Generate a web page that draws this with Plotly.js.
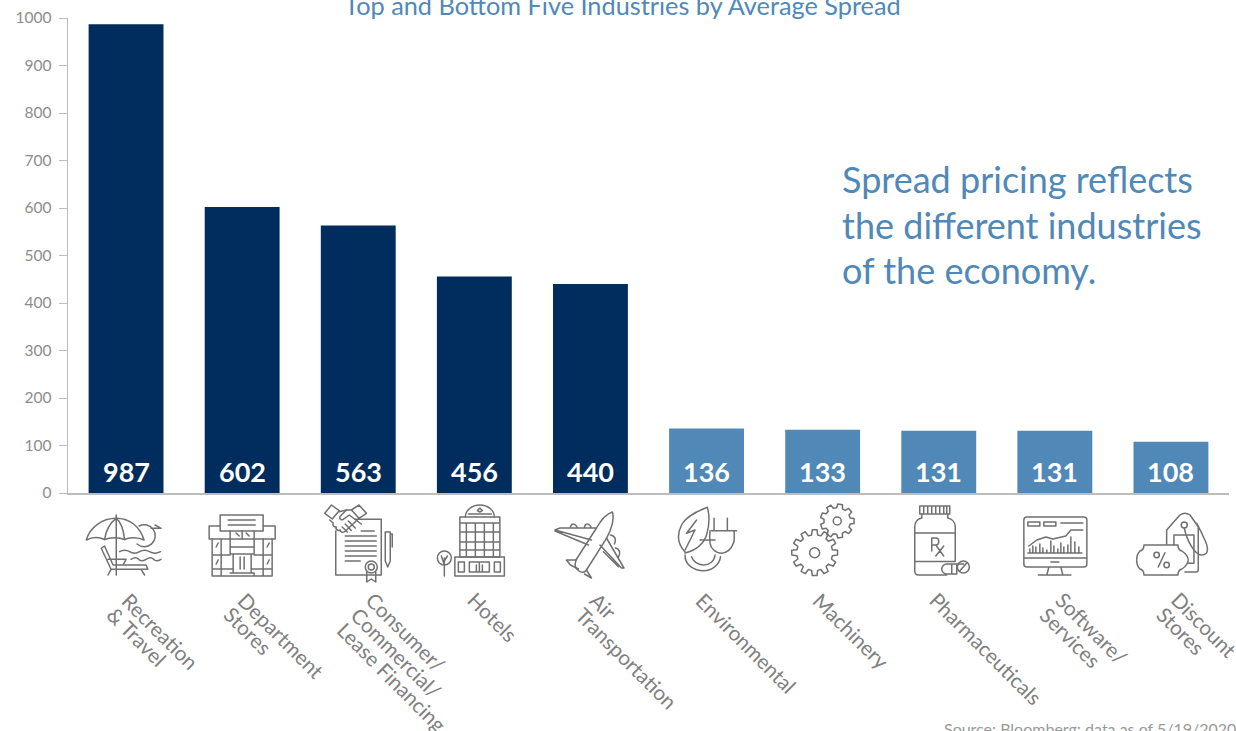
<!DOCTYPE html>
<html>
<head>
<meta charset="utf-8">
<script src="https://cdn.plot.ly/plotly-3.0.1.min.js"></script>
<style>html,body{margin:0;padding:0;background:#fff;overflow:hidden}#c{width:1236px;height:731px}</style>
</head>
<body>
<div id="c"></div>
<script>
var categories = ["Recreation<br>& Travel","Department<br>Stores","Consumer/<br>Commercial/<br>Lease Financing","Hotels","Air<br>Transportation","Environmental","Machinery","Pharmaceuticals","Software/<br>Services","Discount<br>Stores"];
var values = [987,602,563,456,440,136,133,131,131,108];
var groups = ["top","top","top","top","top","bottom","bottom","bottom","bottom","bottom"];
var yTicks = [0,100,200,300,400,500,600,700,800,900,1000];
var titleText = "Top and Bottom Five Industries by Average Spread";
var calloutLines = ["Spread pricing reflects","the different industries","of the economy."];
var sourceText = "Source: Bloomberg; data as of 5/19/2020";

var DARK="#002d5d", LIGHT="#5088b8", FONT="Lato, 'Noto Sans', sans-serif";
var groupColor={top:DARK,bottom:LIGHT};
var labelStart=[-4.5,-4,7.5,-7,-1,-11,-10,-9,0,0];

function gear(cx,cy,r,teeth,hole){
  var d="",n=teeth,inner=r*0.78,step=Math.PI*2/n;
  for(var i=0;i<n;i++){
    var a=i*step,pts=[[inner,a-step*.32],[r,a-step*.2],[r,a+step*.2],[inner,a+step*.32]];
    pts.forEach(function(p,j){
      var x=(cx+p[0]*Math.cos(p[1])).toFixed(1),y=(cy+p[0]*Math.sin(p[1])).toFixed(1);
      d+=((i===0&&j===0)?"M":"L")+x+","+y;
    });
  }
  return '<path d="'+d+'Z"/><circle cx="'+cx+'" cy="'+cy+'" r="'+hole+'"/>';
}

var icons=[
 // umbrella & beach
 '<path d="M-39.8,-5C-36,-18 -24,-26.7 -9.8,-26.7C4,-26.7 14,-18 18,-5C12,-8 3,-8 -1.5,-5.5C-7,-8 -16,-8 -21.5,-5.5C-27,-8 -34,-8 -39.8,-5Z"/><path d="M-9.8,-30V30M-21.5,-5.5C-20,-15 -15,-23 -9.8,-26.7C-5,-23 -2.5,-15 -1.5,-5.5"/><path d="M13,-19A11,11 0 1 1 11,-1M25,-16.7H35M29,-20L35,-16.7"/><path d="M-6.5,6.7q5,-3 10,0t10,0t10,0t11,0M5,14.3q5,-3 7.5,0t7.5,0t7.5,0t7.5,0"/><path d="M-24.8,3.3L-21.5,1L-13,20H20L21.8,24.3H-15ZM-18,14.3H0L-3,20M-15,24.3L-18,30M15,24.3L18.5,30"/>',
 // department store
 '<path d="M-22,-30H21V-14H-22ZM-14,-25H13M-14,-20H13"/><path d="M-22,-19H-33V-6H33V-19H21"/><path d="M-30,-6V31H30V-6M-12,2V9H12V2ZM-9,9V28H9V9M-2,12V24M2,12V24M-12,28H12V31H-12M-12,-14V2M12,-14V2M-30,10H-12M12,10H30M-30,24H-10M10,24H30M-21,-6V31M21,-6V31M0,-14V-6"/><path d="M-6,-12L-3,-9M4,-12L7,-9M-26,2L-24,-2M25,2L27,-2M-26,19L-24,15M25,19L27,15"/>',
 // contract & handshake
 '<path d="M-3,-25.7H23V30H-22.5V-14"/><path d="M-13,-9H18M-13,-4H18M-13,1H18M-13,6H18M-13,11H18M-13,16H2M3,-14H16"/><circle cx="13" cy="22" r="6"/><circle cx="13" cy="22" r="3"/><path d="M8.5,27V37L13,34L17.5,37V27"/><path d="M27,-13H32V16L29.5,22L27,16ZM32,-11H34V2"/><path d="M-33.5,-31.7L-26.8,-40L-19,-34.3L-26,-26ZM8.2,-31.7L0.8,-40L-6.8,-35L0.8,-26.7Z"/><path d="M-19,-33.3L-11.8,-35H-6.8M0.8,-26.7L-13.5,-13.3C-16,-12 -18,-13 -18,-15C-20,-14 -23,-15 -22,-18C-25,-18 -26,-20 -25,-22L-28.5,-25"/><path d="M-11.8,-35L-18.5,-28.3C-19,-25 -16,-25 -15,-25.7L-9,-30L3,-21M-10,-24L-3,-17M-13,-21L-7,-14.5M-16,-18L-11,-13"/>',
 // hotel
 '<path d="M-14.5,-28H25.5V12H-14.5ZM-14.5,-22H25.5M-14.5,-13H25.5M-14.5,-3H25.5M-14.5,5H25.5M-8,-22V12M1,-22V12M10,-22V12M19,-22V12"/><path d="M-9,-28A14.5,12 0 0 1 20,-28"/><path d="M-6,-31H17"/><path d="M3,-34.5L5.5,-33L8,-34.5L5.5,-37Z"/><path d="M-19.5,12H30V31H-19.5ZM-16,17H-10V27H-16ZM-5,17H15V27H-5ZM20,17H26V27H20ZM5,17V27M2,20V26M8,20V26"/><circle cx="-30" cy="13" r="7"/><path d="M-30,13V31M-30,20L-33,11M-30,16L-27,11"/>',
 // plane
 '<path d="M22,-33C15,-31 10,-24 6,-17L-14.5,15C-16,20 -15,24 -12,25.5C-9,28 -6,28 -4,25L16,-6.7C21,-15 24,-26 22,-33Z"/><path d="M1,-5L-35.5,-15L-30.5,-17H6M-35.5,-14L-2,0M-20,-18C-19,-22 -15,-22 -13,-17M-6,-18C-5,-22 -1,-22 1,-17"/><path d="M9.5,0L31,23L33.5,23L16,-7M13,6.7L28,21.7M20,-10C25,-9 26,-5 24,-1M25,3C30,4 30,9 28,12"/><path d="M-14,15H-24L-20,20L-12,24M-4,25L1,33L-6,29"/>',
 // environmental
 '<path d="M0.8,-37.7C-12,-33 -22,-26 -25,-20C-29,-12 -30,-2 -21.5,7M0.8,-37.7C3,-30 3,-20 0,-10C-3,-1 -10,5 -21.5,8"/><path d="M-10,-25L-20,-11.7L-11.5,-15L-21.5,5"/><path d="M7.5,-26.7V-15M20.8,-26.7V-15M5,-14.3H30M27.5,-14.3C28,-8 28,-4 26.8,-1.7C25,4 20,8.3 15,8.3C9,8.3 4,3 3.5,-1.7C3,-5 3,-10 3.5,-14.3M-6.5,-5H8.5"/><path d="M-21.5,10C-22,20 -12,25.7 -3,25.7C5,25.7 13,20 14,11.7M-15,11.7C-14,16 -9,20 -3,20C3,20 8,16 8.5,10"/>',
 // machinery
 gear(-8,7.7,23,12,5)+gear(14.6,-24,17,9,4),
 // pharmaceuticals
 '<path d="M-19,-39H11V-31H-19ZM-15,-39V-31M-11,-39V-31M-7,-39V-31M-3,-39V-31M1,-39V-31M5,-39V-31M8,-39V-31"/><path d="M-17,-31V-27C-22,-26 -24,-22 -24,-18V26C-24,29 -22,30 -20,30H8M9,-31V-27C14,-26 16.5,-22 16.5,-18V16M-24,-12H16.5M-24,16.5H16.5"/><path d="M-7,6V-7H-3C1,-7 1,0 -3,0H-7M-3,0L5,11M5,1L-3,11"/><path d="M8,19H18V29H8A5,5 0 0 1 8,19ZM18,19H25M13,19V29"/><circle cx="24.6" cy="22" r="6"/><path d="M21,26L28,18"/>',
 // software
 '<path d="M-28,-28H29Q32,-28 32,-25V19Q32,22 29,22H-28Q-31,22 -31,19V-25Q-31,-28 -28,-28ZM-31,13H32M-4,17H4M-6,22L-8,30M6,22L8,30M-16.5,30H16M-27,-23H-15V-19H-27ZM-11,-23H1V-19H-11ZM6,-22H28"/><path d="M-26,1L-18,-5L-9,-8L-2,-6L11,-9L16,-15L28,-15"/><path d="M-25,8V4M-22,8V1M-19,8V2M-15,8V-1M-12,8V3M-8,8V5M-4,8V-4M-1,8V1M3,8V4M6,8V-2M9,8V2M13,8V0M16,8V-8M20,8V-3M24,8V2M-27,8H27"/>',
 // discount
 '<path d="M-4.3,-1V-15L9,-30C12,-32 16,-32 19,-30L27.3,-18.3V25Q27.3,27 25,27H14"/><circle cx="13.3" cy="-20" r="3"/><path d="M3,0V-10H23V18.3H17"/><path d="M13.3,-17C16,-4 24,10 30.7,10C38,10 38,3 33,-7C30,-14 27,-19 25.7,-21.7"/><path d="M-27,0H7Q7,5 11,6C14,8 17,11 17.3,15C17,19 14,22 11,24Q7,25 7,30H-27Q-27,25 -31,24C-33,22 -34.3,19 -34.3,15C-34.3,11 -33,8 -31,6Q-27,5 -27,0Z"/><path d="M-12.7,22L-6,7.7"/><circle cx="-14.3" cy="10" r="2.7"/><circle cx="-4.3" cy="20" r="2.7"/>'
];

function iconImage(body,i){
  var svg='<svg xmlns="http://www.w3.org/2000/svg" width="92" height="92" viewBox="-46 -46 92 92"><g fill="none" stroke="#707070" stroke-width="1.5" stroke-linejoin="round" stroke-linecap="round">'+body+'</g></svg>';
  return {source:"data:image/svg+xml;charset=utf-8,"+encodeURIComponent(svg),
    xref:"paper",yref:"paper",x:(i+.5)/categories.length,y:(493-545)/475,
    sizex:92/1161,sizey:92/475,sizing:"stretch",xanchor:"center",yanchor:"middle",layer:"above"};
}

var labelAnn=[];
categories.forEach(function(c,i){
  c.split("<br>").forEach(function(line,j){
    labelAnn.push({text:line,xref:"x",yref:"paper",x:i,y:-92/475,yanchor:"top",xanchor:"left",
      xshift:labelStart[i]-7-14.7*j,yshift:-15*j,showarrow:false,textangle:45,
      font:{family:FONT,size:20.7,color:"#808080"}});
  });
});
var valueAnn=values.map(function(v,i){
  return {text:String(v),xref:"x",yref:"y",x:i,y:0,yanchor:"middle",xanchor:"center",yshift:22,showarrow:false,
    font:{family:FONT,size:27,color:"#fff",weight:700}};
});
var calloutAnn=calloutLines.map(function(t,j){
  return {text:t,xref:"paper",yref:"paper",x:(839.5-68)/1161,y:(493-179-45.5*j)/475,xanchor:"left",yanchor:"middle",showarrow:false,
    font:{family:FONT,size:36,color:LIGHT}};
});

var data=[{type:"bar",x:categories.map(function(_,i){return i;}),y:values,
  marker:{color:groups.map(function(g){return groupColor[g];})},width:0.645,hoverinfo:"y"}];

var layout={width:1236,height:731,paper_bgcolor:"#fff",plot_bgcolor:"#fff",showlegend:false,
  margin:{l:68,r:7,t:18,b:238,pad:0},
  title:{text:titleText,font:{family:FONT,size:25.3,color:LIGHT},xref:"container",yref:"container",x:622.5/1236,y:1-6/731,xanchor:"center",yanchor:"middle"},
  xaxis:{type:"linear",range:[-.5,9.5],showticklabels:false,ticks:"",showgrid:false,zeroline:false,showline:true,linecolor:"#bdbdbd",linewidth:1.5},
  yaxis:{range:[0,1000],tickvals:yTicks,ticktext:yTicks.map(String),ticks:"outside",ticklen:8,tickcolor:"#bdbdbd",tickwidth:1,ticklabelstandoff:4,
    showgrid:false,zeroline:false,showline:true,linecolor:"#bdbdbd",linewidth:1.5,tickfont:{family:FONT,size:15.5,color:"#8c8c8c"}},
  images:icons.map(iconImage),
  annotations:labelAnn.concat(valueAnn,calloutAnn,[
    {text:sourceText,xref:"paper",yref:"paper",x:1,xshift:9,y:(493-728)/475,xanchor:"right",yanchor:"middle",showarrow:false,
     font:{family:FONT,size:16,color:"#999"}}
  ])
};
Plotly.newPlot("c",data,layout,{staticPlot:true,displayModeBar:false});
</script>
</body>
</html>
